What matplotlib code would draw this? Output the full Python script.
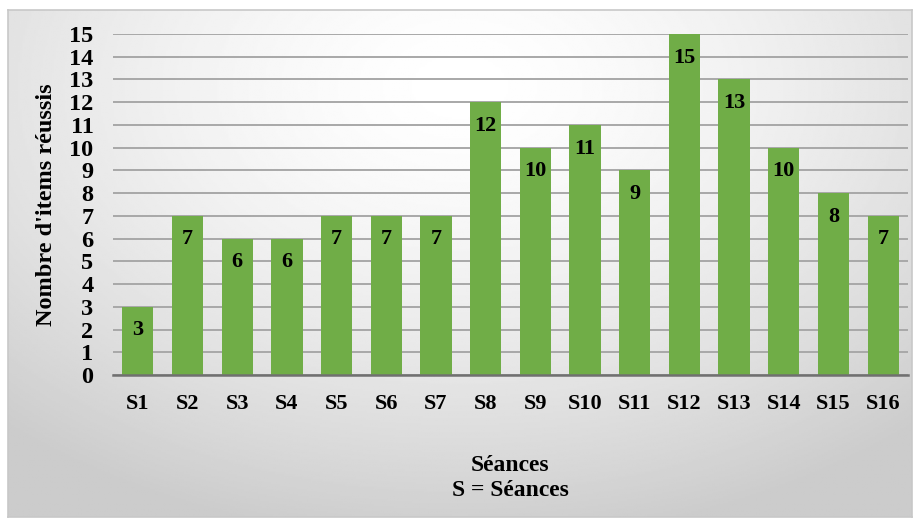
import numpy as np
import matplotlib
matplotlib.use('Agg')
import matplotlib.pyplot as plt

# Data
seances = ['S1', 'S2', 'S3', 'S4', 'S5', 'S6', 'S7', 'S8',
           'S9', 'S10', 'S11', 'S12', 'S13', 'S14', 'S15', 'S16']
items = [3, 7, 6, 6, 7, 7, 7, 12, 10, 11, 9, 15, 13, 10, 8, 7]
yticks = list(range(0, 16))

plt.rcParams['font.family'] = 'serif'
plt.rcParams['font.serif'] = ['Liberation Serif', 'DejaVu Serif']
plt.rcParams['font.weight'] = 'bold'

fig = plt.figure(figsize=(9.17, 5.22), dpi=100)

# Gradient background of the chart frame
bg = fig.add_axes([8/917, 5/522, 904/917, 507/522])
yy, xx = np.mgrid[0:1:300j, 0:1:500j]
r = np.sqrt(((xx - 0.5) / 0.75) ** 2 + ((yy - 0.15) / 0.9) ** 2)
shade = 1.0 - 0.2 * np.clip(r, 0, 1) ** 1.5
bg.imshow(shade, cmap='gray', vmin=0, vmax=1, aspect='auto', extent=[0, 1, 1, 0])
bg.set_xticks([])
bg.set_yticks([])
for s in bg.spines.values():
    s.set_color('#c8c8c8')
    s.set_linewidth(1.2)

ax = fig.add_axes([113/917, 147/522, 795/917, 341/522])
ax.patch.set_alpha(0)
x = np.arange(len(seances))
bars = ax.bar(x, items, width=0.63, color='#70ad47', zorder=3)

ax.set_xlim(-0.5, len(seances) - 0.5)
ax.set_ylim(0, 15)
ax.set_yticks(yticks)
ax.set_yticklabels([str(v) for v in yticks], fontsize=17.5, fontweight='bold')
ax.set_xticks(x)
ax.set_xticklabels(seances, fontsize=16, fontweight='bold')
ax.tick_params(axis='both', length=0)
ax.tick_params(axis='x', pad=14)
ax.tick_params(axis='y', pad=14)

ax.grid(axis='y', color='#a8a8a8', linewidth=1.4, zorder=0)
for side in ['top', 'right', 'left']:
    ax.spines[side].set_visible(False)
ax.spines['bottom'].set_color('#707070')
ax.spines['bottom'].set_linewidth(1.8)
ax.spines['bottom'].set_zorder(4)

# Value labels inside the top of each bar
for xi, v in zip(x, items):
    ax.annotate(str(v), (xi, v), xytext=(0, -17), textcoords='offset points',
                ha='center', va='center', fontsize=16, fontweight='bold', zorder=5)

ax.set_ylabel("Nombre d'items réussis", fontsize=17.5, fontweight='bold')
ax.yaxis.set_label_coords(-0.07, 0.5)
ax.set_xlabel('Séances\nS = Séances', fontsize=17, fontweight='bold', linespacing=1.25)
ax.xaxis.set_label_coords(0.5, -0.235)

fig.savefig('out.png', dpi=100)
